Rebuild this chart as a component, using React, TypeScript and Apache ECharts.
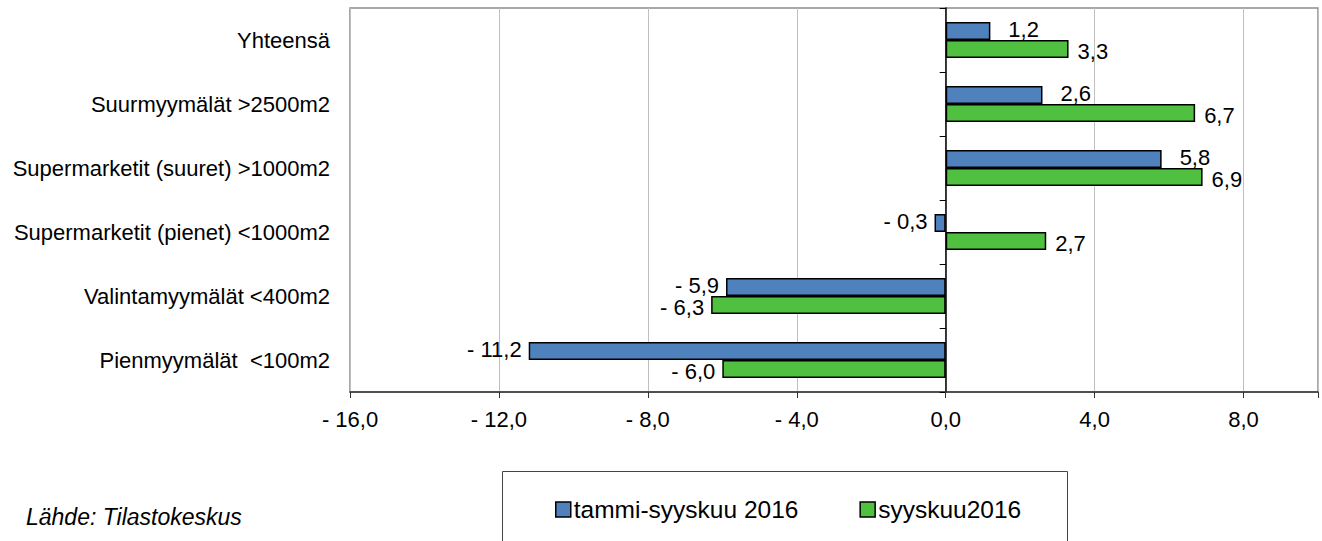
import React, { useEffect, useRef } from "react";
import * as echarts from "echarts";

const categories = [
  "Yhteensä",
  "Suurmyymälät >2500m2",
  "Supermarketit (suuret) >1000m2",
  "Supermarketit (pienet) <1000m2",
  "Valintamyymälät <400m2",
  "Pienmyymälät  <100m2",
];
const seriesNames = ["tammi-syyskuu 2016", "syyskuu2016"];
const valuesJanSep = [1.2, 2.6, 5.8, -0.3, -5.9, -11.2];
const valuesSep = [3.3, 6.7, 6.9, 2.7, -6.3, -6.0];
const axisMin = -16;
const axisMax = 10;
const axisStep = 4;
const sourceText = "Lähde: Tilastokeskus";

const FONT = "'Liberation Sans', Arial, sans-serif";

function fmt(v: number): string {
  const s = Math.abs(v).toFixed(1).replace(".", ",");
  return v < 0 ? "- " + s : s;
}

function buildData(values: number[], posDist: number, offsetY: number) {
  return values.map((v) => ({
    value: v,
    label:
      v >= 0
        ? { position: "right", distance: posDist, offset: [0, offsetY] }
        : { position: "left", distance: 7, offset: [0, offsetY] },
  }));
}

export default function App() {
  const ref = useRef<HTMLDivElement>(null);
  useEffect(() => {
    if (!ref.current) return;
    const chart = echarts.init(ref.current, null, { renderer: "svg" });
    const labelStyle = {
      show: true,
      color: "#000",
      fontSize: 22,
      lineHeight: 19,
      fontFamily: FONT,
      formatter: (p: any) => fmt(p.value),
    };
    chart.setOption({
      animation: false,
      backgroundColor: "#fff",
      textStyle: { fontFamily: FONT },
      title: {
        text: sourceText,
        left: 26,
        top: 505,
        padding: 0,
        textStyle: { fontSize: 23, fontStyle: "italic", fontWeight: "normal", color: "#000", fontFamily: FONT },
      },
      graphic: [
        {
          type: "rect",
          shape: { x: 502.5, y: 471.5, width: 565, height: 90 },
          style: { fill: "none", stroke: "#444", lineWidth: 1 },
          z: 0,
        },
      ],
      legend: {
        left: 555,
        top: 497,
        padding: 0,
        itemWidth: 15,
        itemHeight: 15,
        itemGap: 61,
        icon: "rect",
        textStyle: { fontSize: 24.5, color: "#000", fontFamily: FONT, padding: [0, 0, 0, -2] },
        itemStyle: { borderColor: "#000", borderWidth: 1.5 },
        data: seriesNames,
      },
      grid: {
        left: 350,
        top: 8,
        right: 4,
        bottom: 149,
        show: true,
        borderColor: "#8c8c8c",
        borderWidth: 1.5,
        containLabel: false,
      },
      xAxis: {
        type: "value",
        min: axisMin,
        max: axisMax,
        interval: axisStep,
        axisLine: { show: true, onZero: false, lineStyle: { color: "#333", width: 1.5 } },
        axisTick: { show: true, length: 6, lineStyle: { color: "#333" } },
        axisLabel: {
          color: "#000",
          fontSize: 22,
          fontFamily: FONT,
          margin: 16,
          formatter: (v: number) => (v === axisMax ? "" : fmt(v)),
        },
        splitLine: { show: true, lineStyle: { color: "#c0c0c0", width: 1 } },
      },
      yAxis: [
        {
          type: "category",
          data: categories,
          inverse: true,
          position: "left",
          axisLine: { show: false, onZero: false },
          axisTick: { show: false },
          axisLabel: { color: "#000", fontSize: 22, fontFamily: FONT, margin: 20 },
          splitLine: { show: false },
        },
        {
          type: "category",
          data: categories,
          inverse: true,
          position: "left",
          axisLine: { show: true, onZero: true, lineStyle: { color: "#000", width: 1.5 } },
          axisTick: { show: true, length: 6, lineStyle: { color: "#000" } },
          axisLabel: { show: false },
          splitLine: { show: false },
        },
      ],
      series: [
        {
          name: seriesNames[0],
          type: "bar",
          yAxisIndex: 0,
          barWidth: 18,
          barGap: "0%",
          itemStyle: { color: "#4F81BD", borderColor: "#000", borderWidth: 1.5 },
          label: labelStyle,
          data: buildData(valuesJanSep, 18, -1.5),
        },
        {
          name: seriesNames[1],
          type: "bar",
          yAxisIndex: 0,
          barWidth: 18,
          barGap: "0%",
          itemStyle: { color: "#50C040", borderColor: "#000", borderWidth: 1.5 },
          label: labelStyle,
          data: buildData(valuesSep, 9, 2.5),
        },
      ],
    });
    return () => chart.dispose();
  }, []);
  return (
    <div
      ref={ref}
      style={{ position: "fixed", left: 0, top: 0, width: 1322, height: 541, background: "#fff" }}
    />
  );
}
